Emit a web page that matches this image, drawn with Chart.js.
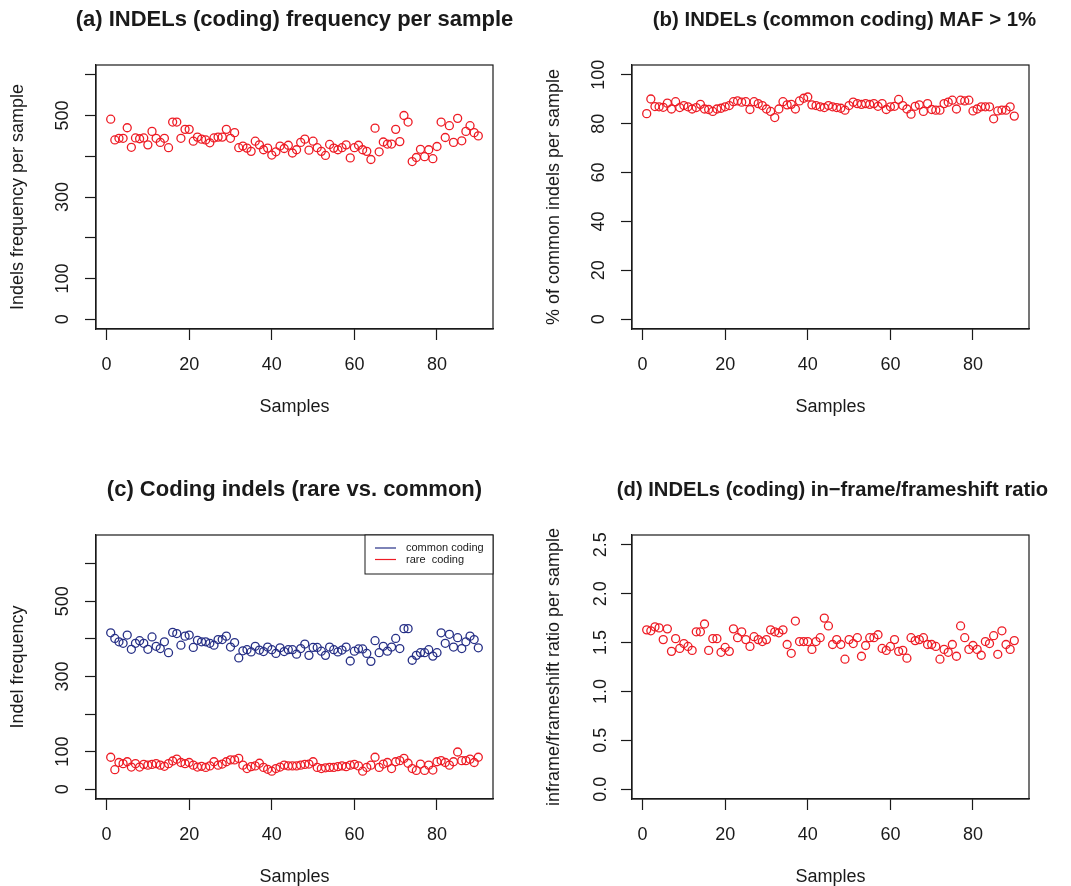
<!DOCTYPE html>
<html>
<head>
<meta charset="utf-8">
<script src="https://cdn.jsdelivr.net/npm/chart.js@4.4.0/dist/chart.umd.min.js"></script>
<style>
html, body { margin: 0; padding: 0; background: #fff; overflow: hidden; }
#wrap { position: relative; width: 1071px; height: 886px; }
canvas { position: absolute; }
</style>
</head>
<body>
<div id="wrap">
  <canvas id="pa" width="535" height="420" style="left:0px;top:0px"></canvas>
  <canvas id="pb" width="535" height="420" style="left:536px;top:0px"></canvas>
  <canvas id="pc" width="535" height="420" style="left:0px;top:470px"></canvas>
  <canvas id="pd" width="535" height="420" style="left:536px;top:470px"></canvas>
</div>
<script>
// x axis (sample index), shared by all panels
const X_TICKS = [0, 20, 40, 60, 80];

// (a) INDELs (coding) frequency per sample
const codingFreq = [491,440,444,444,470,422,445,443,445,428,
  461,444,434,444,421,484,484,444,466,466,
  437,447,442,440,433,445,447,447,466,444,
  458,421,425,420,412,437,428,416,420,403,
  411,425,419,427,408,416,434,442,415,437,
  421,412,402,429,420,416,421,428,396,421,
  427,416,412,392,469,411,435,430,430,466,
  436,500,484,387,397,417,399,416,394,424,
  484,446,475,434,493,438,461,475,458,450];
const A_TICKS = [0, 100, 200, 300, 400, 500, 600];
const A_LABELS = ['0', '100', '', '300', '', '500', ''];

// (b) % of common coding indels (MAF > 1%)
const commonPct = [84.1,90.1,87.0,86.9,86.7,88.4,86.0,89.0,86.6,87.4,
  86.9,86.0,86.6,87.9,86.0,85.8,85.0,86.0,86.3,86.9,
  87.4,89.0,89.3,88.8,89.0,85.8,89.0,88.2,87.4,86.0,
  85.0,82.5,86.0,89.0,87.7,87.9,86.0,89.3,90.4,90.9,
  87.7,87.4,86.9,86.6,87.4,86.9,86.6,86.3,85.5,87.4,
  88.8,88.2,87.9,88.2,87.9,88.2,87.1,88.2,85.8,86.9,
  87.1,89.9,87.4,86.0,83.9,87.1,87.7,85.0,88.2,85.8,
  85.5,85.5,88.2,88.8,89.6,86.0,89.6,89.3,89.6,85.2,
  86.0,86.9,86.9,86.9,82.0,85.2,85.5,85.5,86.9,83.1];
const B_TICKS = [0, 20, 40, 60, 80, 100];
const B_LABELS = ['0', '20', '40', '60', '80', '100'];

// (c) rare vs common coding indels
const commonCoding = [416,401,392,388,410,372,388,395,388,372,
  405,380,374,392,363,417,414,383,407,410,
  377,396,392,392,388,383,398,398,407,378,
  390,349,368,371,365,380,370,366,378,371,
  361,376,366,371,371,359,374,386,356,377,
  377,367,356,378,371,365,370,378,341,367,
  373,373,361,340,395,363,380,367,378,401,
  374,427,427,343,356,363,363,371,354,363,
  416,388,412,378,403,374,392,407,398,376];
const rareCoding = [85,52,71,68,73,59,68,59,66,64,
  66,68,64,61,68,75,80,71,68,71,
  64,59,61,58,62,73,64,67,73,78,
  78,82,64,55,60,62,69,58,53,48,
  55,59,64,62,62,62,64,66,67,73,
  58,55,57,58,58,60,62,60,64,66,
  62,48,58,64,85,58,67,71,55,73,
  76,82,69,55,50,67,50,64,51,73,
  76,71,64,73,99,76,76,80,71,85];
const C_TICKS = [0, 100, 200, 300, 400, 500, 600];
const C_LABELS = ['0', '100', '', '300', '', '500', ''];

// (d) in-frame / frameshift ratio
const ratio = [1.63,1.62,1.66,1.65,1.53,1.64,1.41,1.54,1.44,1.49,
  1.46,1.42,1.61,1.61,1.69,1.42,1.54,1.54,1.40,1.45,
  1.41,1.64,1.55,1.61,1.53,1.46,1.56,1.53,1.51,1.53,
  1.63,1.61,1.60,1.63,1.48,1.39,1.72,1.51,1.51,1.51,
  1.43,1.51,1.55,1.75,1.67,1.48,1.53,1.48,1.33,1.53,
  1.49,1.55,1.36,1.47,1.55,1.55,1.58,1.44,1.42,1.46,
  1.53,1.41,1.42,1.34,1.55,1.52,1.53,1.55,1.48,1.48,
  1.46,1.33,1.43,1.40,1.48,1.36,1.67,1.55,1.43,1.47,
  1.43,1.37,1.51,1.49,1.57,1.38,1.62,1.48,1.43,1.52];
const D_TICKS = [0, 0.5, 1, 1.5, 2, 2.5];
const D_LABELS = ['0.0', '0.5', '1.0', '1.5', '2.0', '2.5'];

const FONT = '"Liberation Sans", Arial, Helvetica, sans-serif';
const INK = '#1a1a1a';
const RED = '#ee1c25';
const BLUE = '#262f86';

function pts(values) {
  return values.map((v, i) => ({ x: i + 1, y: v }));
}

function circles(label, values, color) {
  return {
    label: label,
    data: pts(values),
    showLine: false,
    pointStyle: 'circle',
    pointRadius: 4,
    pointHoverRadius: 4,
    pointBorderWidth: 1.3,
    pointBackgroundColor: 'rgba(0,0,0,0)',
    pointBorderColor: color,
    borderColor: color,
    backgroundColor: 'rgba(0,0,0,0)'
  };
}

// R style box round the plot region, plus the main title above it
const boxPlugin = {
  id: 'box',
  afterDraw(chart) {
    const a = chart.chartArea, c = chart.ctx;
    c.save();
    c.strokeStyle = INK;
    c.lineWidth = 1.2;
    c.strokeRect(a.left, a.top, a.right - a.left, a.bottom - a.top);
    const t = chart.options.plugins.box;
    if (t && t.text) {
      c.fillStyle = INK;
      c.font = 'bold ' + t.size + 'px ' + FONT;
      c.textAlign = 'center';
      c.textBaseline = 'middle';
      c.fillText(t.text, (a.left + a.right) / 2 + t.shift, 20);
    }
    c.restore();
  }
};

// legend("topright", lty = 1) drawn inside the plot
const insetLegend = {
  id: 'insetLegend',
  afterDraw(chart) {
    if (!chart.options.plugins.insetLegend) return;
    const a = chart.chartArea, c = chart.ctx;
    const w = 128, h = 39;
    const x = a.right - w, y = a.top;
    c.save();
    c.fillStyle = '#fff';
    c.fillRect(x, y, w, h);
    c.strokeStyle = INK;
    c.lineWidth = 1;
    c.strokeRect(x, y, w, h);
    chart.data.datasets.forEach((ds, i) => {
      const ly = y + 13 + i * 11.5;
      c.strokeStyle = ds.borderColor;
      c.lineWidth = 1.2;
      c.beginPath();
      c.moveTo(x + 10, ly);
      c.lineTo(x + 31, ly);
      c.stroke();
      c.fillStyle = INK;
      c.font = '11px ' + FONT;
      c.textBaseline = 'middle';
      c.textAlign = 'left';
      c.fillText(ds.label, x + 41, ly);
    });
    c.restore();
  }
};

function makePanel(id, title, tSize, tShift, yTitle, datasets, yMin, yMax, yTicks, yLabels, legend) {
  const widest = 30;
  new Chart(document.getElementById(id), {
    type: 'scatter',
    data: { datasets: datasets },
    options: {
      responsive: false,
      animation: false,
      events: [],
      layout: { padding: { left: 0, right: 42, top: 65, bottom: 0 } },
      plugins: {
        legend: { display: false },
        tooltip: { enabled: false },
        title: { display: false },
        box: { text: title, size: tSize, shift: tShift },
        insetLegend: legend
      },
      scales: {
        x: {
          type: 'linear',
          min: -2.56,
          max: 93.56,
          afterBuildTicks: s => { s.ticks = X_TICKS.map(v => ({ value: v })); },
          afterFit: s => { s.height = 91; },
          grid: { drawOnChartArea: false, tickLength: 11, tickColor: INK, tickWidth: 1.2 },
          border: { display: true, color: INK, width: 1.2 },
          ticks: {
            color: INK, font: { family: FONT, size: 18 }, padding: 14,
            maxRotation: 0, autoSkip: false
          },
          title: {
            display: true, text: 'Samples', color: INK,
            font: { family: FONT, size: 18 }, padding: { top: 0, bottom: 2 }
          }
        },
        y: {
          type: 'linear',
          min: yMin,
          max: yMax,
          afterBuildTicks: s => { s.ticks = yTicks.map(v => ({ value: v })); },
          afterFit: s => { s.width = 96; },
          grid: { drawOnChartArea: false, tickLength: 11, tickColor: INK, tickWidth: 1.2 },
          border: { display: true, color: INK, width: 1.2 },
          ticks: {
            color: INK, font: { family: FONT, size: 18 },
            minRotation: 90, maxRotation: 90, crossAlign: 'center',
            padding: 22 - widest / 2, autoSkip: false,
            callback: (v) => {
              const k = yTicks.indexOf(v);
              return k < 0 ? '' : yLabels[k];
            }
          },
          title: {
            display: true, text: yTitle, color: INK,
            font: { family: FONT, size: 18 }, padding: { top: 7, bottom: 0 }
          }
        }
      }
    },
    plugins: [boxPlugin, insetLegend]
  });
}

makePanel('pa', '(a) INDELs (coding) frequency per sample', 22, 0, 'Indels frequency per sample',
  [circles('coding', codingFreq, RED)], -24, 624, A_TICKS, A_LABELS, false);

makePanel('pb', '(b) INDELs (common coding) MAF > 1%', 20.4, 14, '% of common indels per sample',
  [circles('common', commonPct, RED)], -4, 104, B_TICKS, B_LABELS, false);

makePanel('pc', '(c) Coding indels (rare vs. common)', 22, 0, 'Indel frequency',
  [circles('common coding', commonCoding, BLUE), circles('rare  coding', rareCoding, RED)],
  -26, 676, C_TICKS, C_LABELS, true);

makePanel('pd', '(d) INDELs (coding) in\u2212frame/frameshift ratio', 20.2, 2, 'inframe/frameshift ratio per sample',
  [circles('ratio', ratio, RED)], -0.1, 2.6, D_TICKS, D_LABELS, false);
</script>
</body>
</html>
